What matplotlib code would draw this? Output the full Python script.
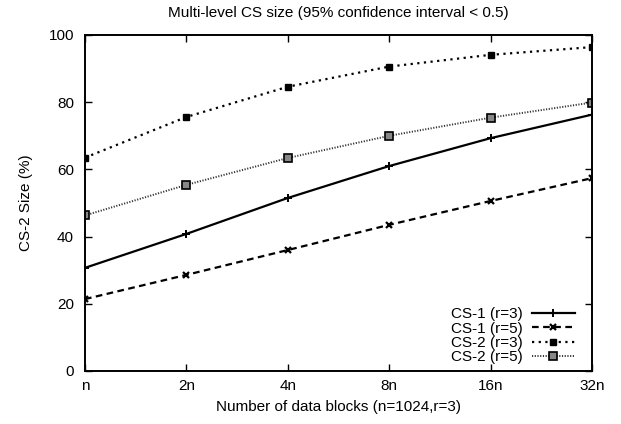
import matplotlib
matplotlib.use("Agg")
import matplotlib.pyplot as plt

plt.rcParams['font.family'] = ['Liberation Sans', 'DejaVu Sans']

x_labels = ["n", "2n", "4n", "8n", "16n", "32n"]
cs1_r3 = [30.7, 40.8, 51.5, 61.0, 69.3, 76.3]
cs1_r5 = [21.4, 28.6, 36.0, 43.5, 50.6, 57.4]
cs2_r3 = [63.5, 75.6, 84.6, 90.6, 94.1, 96.4]
cs2_r5 = [46.3, 55.4, 63.4, 70.0, 75.4, 79.9]

fig = plt.figure(figsize=(6.21, 4.24), dpi=100)
ax = fig.add_axes([85/621, 1-371/424, (592-85)/621, (371-35)/424])

xs = list(range(len(x_labels)))
ax.plot(xs, cs1_r3, color='black', lw=1.6, ls='-', marker='+', ms=6, mew=1.4, label='CS-1 (r=3)')
ax.plot(xs, cs1_r5, color='black', lw=1.6, ls=(0, (3, 2)), marker='x', ms=5, mew=1.6, label='CS-1 (r=5)')
ax.plot(xs, cs2_r3, color='black', lw=1.6, ls=(0, (1, 2)), marker='s', ms=5, label='CS-2 (r=3)')
ax.plot(xs, cs2_r5, color='#333333', lw=1.4, ls=(0, (0.6, 0.8)), marker='s', ms=6,
        mfc='#888888', mec='black', mew=1.2, label='CS-2 (r=5)')

ax.set_xlim(0, len(x_labels) - 1)
ax.set_ylim(0, 100)
ax.set_xticks(xs)
ax.set_xticklabels(x_labels)
ax.set_yticks([0, 20, 40, 60, 80, 100])
ax.tick_params(direction='in', length=5, width=1, labelsize=11, top=True, right=True, pad=8)
ax.tick_params(axis='x', pad=6)
for s in ax.spines.values():
    s.set_linewidth(1.4)

ax.set_xlabel("Number of data blocks (n=1024,r=3)", fontsize=11, labelpad=5)
ax.set_ylabel("CS-2 Size (%)", fontsize=11, labelpad=11)
ax.set_title("Multi-level CS size (95% confidence interval < 0.5)", fontsize=11, pad=13)

leg = ax.legend(loc='lower right', bbox_to_anchor=(0.966, 0.02), frameon=False,
                markerfirst=False, fontsize=11, handlelength=2.8, labelspacing=0.02,
                borderpad=0, borderaxespad=0, handletextpad=0.6)

fig.savefig("out.png", dpi=100)
